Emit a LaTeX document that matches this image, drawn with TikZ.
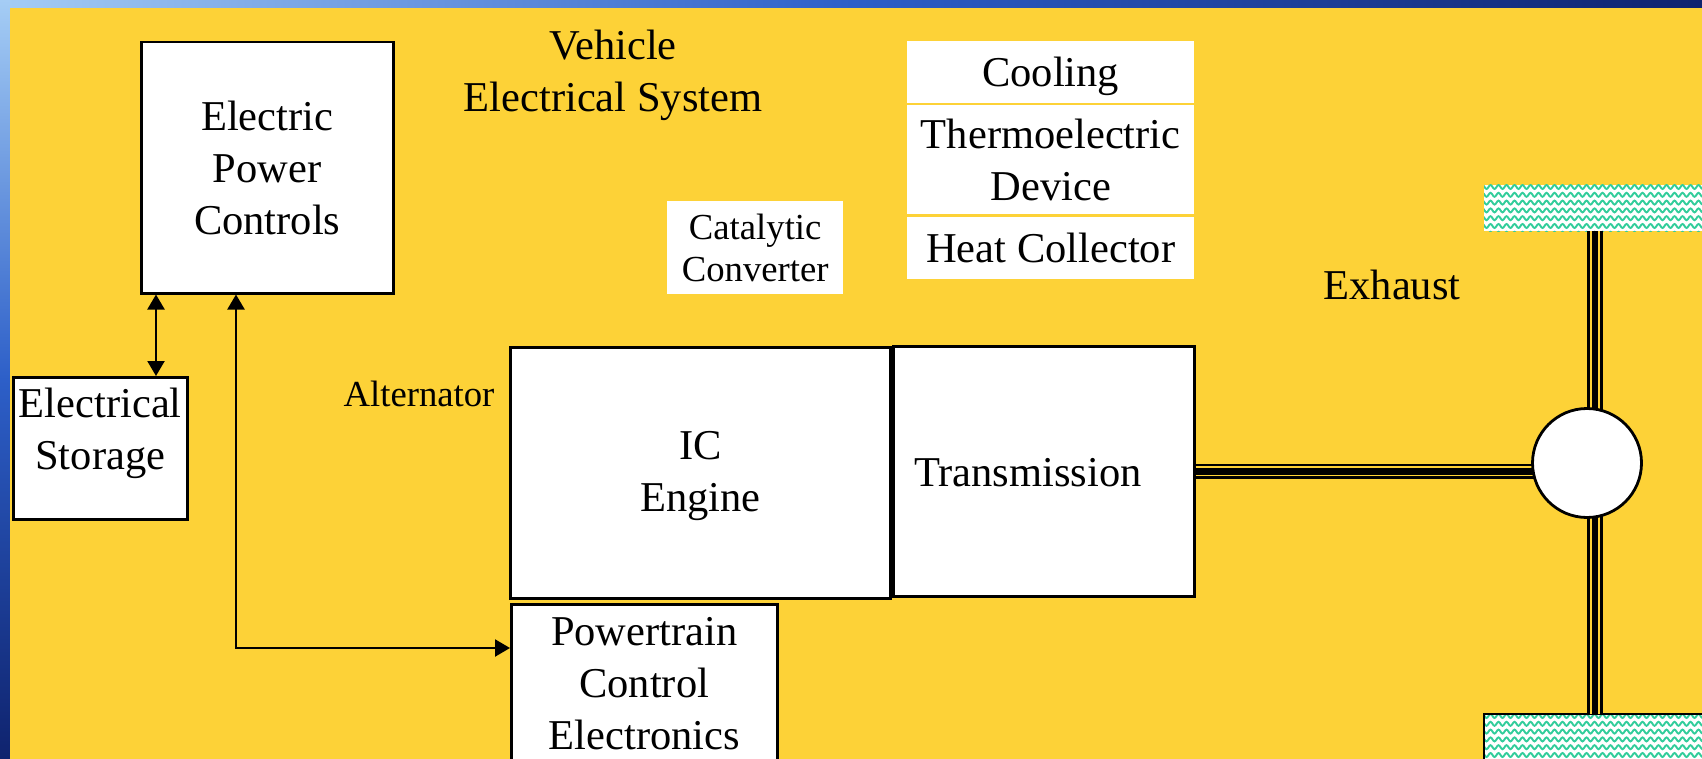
\documentclass[tikz,border=0pt]{standalone}
\usepackage{fontspec}
\setmainfont{Liberation Serif}
\usetikzlibrary{arrows.meta,calc,decorations.pathmorphing}

\definecolor{slideyellow}{RGB}{253,210,55}
\definecolor{wavegreen}{RGB}{50,205,155}
\definecolor{framelight}{RGB}{165,205,245}
\definecolor{framemid}{RGB}{45,95,200}
\definecolor{framedark}{RGB}{15,35,110}

\tikzset{
  blockbox/.style={draw=black, line width=2.5pt, fill=white, inner sep=0pt, anchor=north west},
  plainbox/.style={fill=white, inner sep=0pt, anchor=north west},
  bigtext/.style={font=\fontsize{42.5}{52}\selectfont, align=center},
  smalltext/.style={font=\fontsize{36.7}{42}\selectfont, align=center},
  link/.style={line width=2.2pt, {Triangle[length=15pt,width=17pt]}-{Triangle[length=15pt,width=17pt]}},
  shaft/.style={draw=black, line width=6.7pt,
    preaction={draw=black, line width=15.3pt},
    preaction={draw=slideyellow, line width=10pt}},
  tirewave/.style={draw=wavegreen, line width=1.9pt, decorate,
    decoration={snake, segment length=8pt, amplitude=2pt}}
}

\begin{document}
\begin{tikzpicture}[x=1pt, y=-1pt]
    \useasboundingbox (0,0) rectangle (1702,759);
    \clip (0,0) rectangle (1702,759);
    % slide frame and background
    \shade[left color=framelight, right color=framedark, middle color=framemid] (0,0) rectangle (1702,8);
    \shade[top color=framelight, bottom color=framedark, middle color=framemid] (0,0) rectangle (10,759);
    \fill[slideyellow] (10,8) rectangle (1702,759);

    % wheels, axle and drive shaft
    \node[plainbox, minimum width=240pt, minimum height=46pt] (tiretop) at (1484,185) {};
    \node[plainbox, minimum width=240pt, minimum height=70pt] (tirebot) at (1484,714) {};
    \foreach \tire in {tiretop,tirebot} {
      \begin{scope}
        \clip (\tire.north west) rectangle (\tire.south east);
        \foreach \r in {2,9.8,...,70}
          \draw[tirewave] ($(\tire.north west)+(-4,\r)$) -- ($(\tire.north east)+(4,\r)$);
      \end{scope}
    }
    \draw[line width=2.5pt] (tirebot.north west) rectangle (tirebot.south east);

    \node[blockbox, minimum width=301pt, minimum height=250pt] (trans) at (892,345) {};
    \coordinate (hub) at (1587,463);
    \coordinate (axle) at ($(hub)+(8,0)$);
    \draw[shaft] (tiretop.south -| axle) -- (tirebot.north -| axle);
    \draw[shaft] (trans.east) -- (trans.east -| hub);
    \node[circle, draw=black, line width=2.8pt, fill=white, minimum size=109pt, inner sep=0pt] (wheel) at (hub) {};

    % blocks
    \node[blockbox, bigtext, minimum width=252pt, minimum height=251pt] (epc) at (140,41) {Electric\\Power\\Controls};
    \node[blockbox, minimum width=174pt, minimum height=142pt] (store) at (12,376) {};
    \node[bigtext] (storetext) at ($(store.center)+(0,-15)$) {Electrical\\Storage};
    \node[blockbox, bigtext, text depth=3pt, minimum width=380pt, minimum height=251pt] (engine) at (509,346) {IC\\Engine};
    \node[bigtext] (transtext) at ($(trans.center)+(-16,1)$) {Transmission};
    \node[blockbox, bigtext, text depth=4pt, minimum width=266pt, minimum height=162pt] (pce) at (510,603) {Powertrain\\Control\\Electronics};
    \node[plainbox, smalltext, text depth=-6pt, minimum width=176pt, minimum height=93pt] (cat) at (667,201) {Catalytic\\Converter};
    \node[plainbox, bigtext, text depth=-3pt, minimum width=287pt, minimum height=62pt] (cool) at (907,41) {Cooling};
    \node[plainbox, bigtext, text depth=-6pt, minimum width=287pt, minimum height=109pt] (thermo) at (907,105) {Thermoelectric\\Device};
    \node[plainbox, bigtext, text depth=-4pt, minimum width=287pt, minimum height=62pt] (heat) at (907,217) {Heat Collector};

    % free labels
    \node[bigtext] (vehicle) at (613,75) {Vehicle\\Electrical System};
    \node[bigtext] (exhaust) at (1392,285) {Exhaust};
    \node[smalltext] (alternator) at (419,394) {Alternator};

    % electrical links
    \coordinate (storelink) at ($(epc.south west)+(16,0)$);
    \draw[link] (storelink) -- (storelink |- store.north);
    \draw[link] ($(epc.south west)+(96,0)$) |- ($(pce.north west)+(0,45)$);
\end{tikzpicture}
\end{document}
